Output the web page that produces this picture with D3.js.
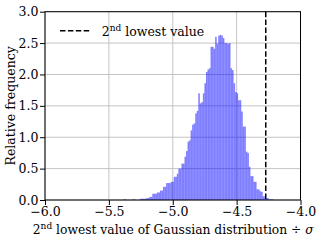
<!DOCTYPE html>
<html><head><meta charset="utf-8">
<script src="https://cdn.jsdelivr.net/npm/d3@7"></script>
<style>body{margin:0;background:#fff}svg{display:block}text{font-family:"DejaVu Serif";fill:#000}</style>
</head><body>
<script>
// Histogram bins: start edge and width (x in units of sigma)
const binStart = -5.40;
const binWidth = 0.012;
const freq = [
 0,0.01,0.01,0,0,0,0,0.01,0.01,0,
 0,0,0.02,0.02,0.02,0.02,0.03,0.03,0.05,0.05,
 0.10,0.10,0.10,0.12,0.12,0.15,0.15,0.21,0.21,0.27,
 0.27,0.27,0.29,0.29,0.37,0.37,0.42,0.50,0.50,0.58,
 0.58,0.69,0.78,0.93,0.95,1.11,1.20,1.22,1.38,1.42,
 1.70,1.54,1.56,1.70,1.86,2.04,2.08,2.10,2.44,2.44,
 2.41,2.60,2.49,2.62,2.63,2.62,2.58,2.50,2.50,2.49,
 2.50,2.10,2.07,1.86,1.72,1.70,1.59,1.59,1.41,1.17,
 1.17,0.77,0.75,0.53,0.38,0.38,0.29,0.29,0.17,0.17,
 0.14,0.13,0.06,0.06,0.03,0.03,0.01,0.01,0.01,0
];
const secondLowest = -4.272;
const xTicks = [-6.0,-5.5,-5.0,-4.5,-4.0];
const yTicks = [0.0,0.5,1.0,1.5,2.0,2.5,3.0];

const W=321,H=242;
const FONT='"DejaVu Serif"';
const m={l:45,r:300.5,t:11.7,b:200};
const x=d3.scaleLinear().domain([-6,-4]).range([m.l,m.r]);
const y=d3.scaleLinear().domain([0,3]).range([m.b,m.t]);
const svg=d3.select("body").append("svg").attr("width",W).attr("height",H);

// grid
svg.append("g").selectAll("line").data(xTicks).join("line")
 .attr("x1",d=>x(d)).attr("x2",d=>x(d)).attr("y1",m.t).attr("y2",m.b)
 .attr("stroke","#c4c4c4").attr("stroke-width",1);
svg.append("g").selectAll("line").data(yTicks).join("line")
 .attr("y1",d=>y(d)).attr("y2",d=>y(d)).attr("x1",m.l).attr("x2",m.r)
 .attr("stroke","#c4c4c4").attr("stroke-width",1);

// bars
svg.append("g").selectAll("rect").data(freq).join("rect")
 .attr("x",(d,i)=>x(binStart+i*binWidth))
 .attr("width",(d,i)=>x(binStart+(i+1)*binWidth)-x(binStart+i*binWidth))
 .attr("y",d=>y(d)).attr("height",d=>y(0)-y(d))
 .attr("fill","rgba(0,0,255,0.5)");

// dashed line
svg.append("line").attr("x1",x(secondLowest)).attr("x2",x(secondLowest))
 .attr("y1",m.t).attr("y2",m.b).attr("stroke","#000").attr("stroke-width",1.5)
 .attr("stroke-dasharray","5.5,2.4");

// frame
svg.append("rect").attr("x",m.l).attr("y",m.t).attr("width",m.r-m.l).attr("height",m.b-m.t)
 .attr("fill","none").attr("stroke","#000").attr("stroke-width",1);

// axes
const fmt=d=>d3.format(".1f")(d).replace("-","\u2212");
const xa=svg.append("g").attr("transform",`translate(0,${m.b})`)
 .call(d3.axisBottom(x).tickValues(xTicks).tickFormat(fmt).tickSize(5).tickPadding(2.5));
const ya=svg.append("g").attr("transform",`translate(${m.l},0)`)
 .call(d3.axisLeft(y).tickValues(yTicks).tickFormat(fmt).tickSize(5).tickPadding(1.5));
[xa,ya].forEach(a=>{a.attr("font-family",FONT).attr("font-size",12.5);
 a.select(".domain").remove();
 a.selectAll("text").attr("fill","#000");
 a.selectAll("line").attr("stroke","#000");});

// axis labels
const xl=svg.append("text").attr("x",(m.l+m.r)/2+0.5).attr("y",233.5).attr("text-anchor","middle").style("font-size","12.3px");
xl.append("tspan").text("2");
xl.append("tspan").text("nd").attr("dy",-4.5).style("font-size","9px");
xl.append("tspan").text(" lowest value of Gaussian distribution \u00f7 ").attr("dy",4.5);
xl.append("tspan").text("\u03c3").style("font-style","italic");

svg.append("text").attr("transform",`translate(15,${(m.t+m.b)/2}) rotate(-90)`)
 .attr("text-anchor","middle").style("font-size","12.5px").text("Relative frequency");

// legend
svg.append("line").attr("x1",60).attr("x2",90).attr("y1",30.7).attr("y2",30.7)
 .attr("stroke","#000").attr("stroke-width",1.5).attr("stroke-dasharray","5.5,2.4");
const lt=svg.append("text").attr("x",101.7).attr("y",35.5).style("font-size","12.5px");
lt.append("tspan").text("2");
lt.append("tspan").text("nd").attr("dy",-4.5).style("font-size","9px");
lt.append("tspan").text(" lowest value").attr("dy",4.5);
</script>
</body></html>
